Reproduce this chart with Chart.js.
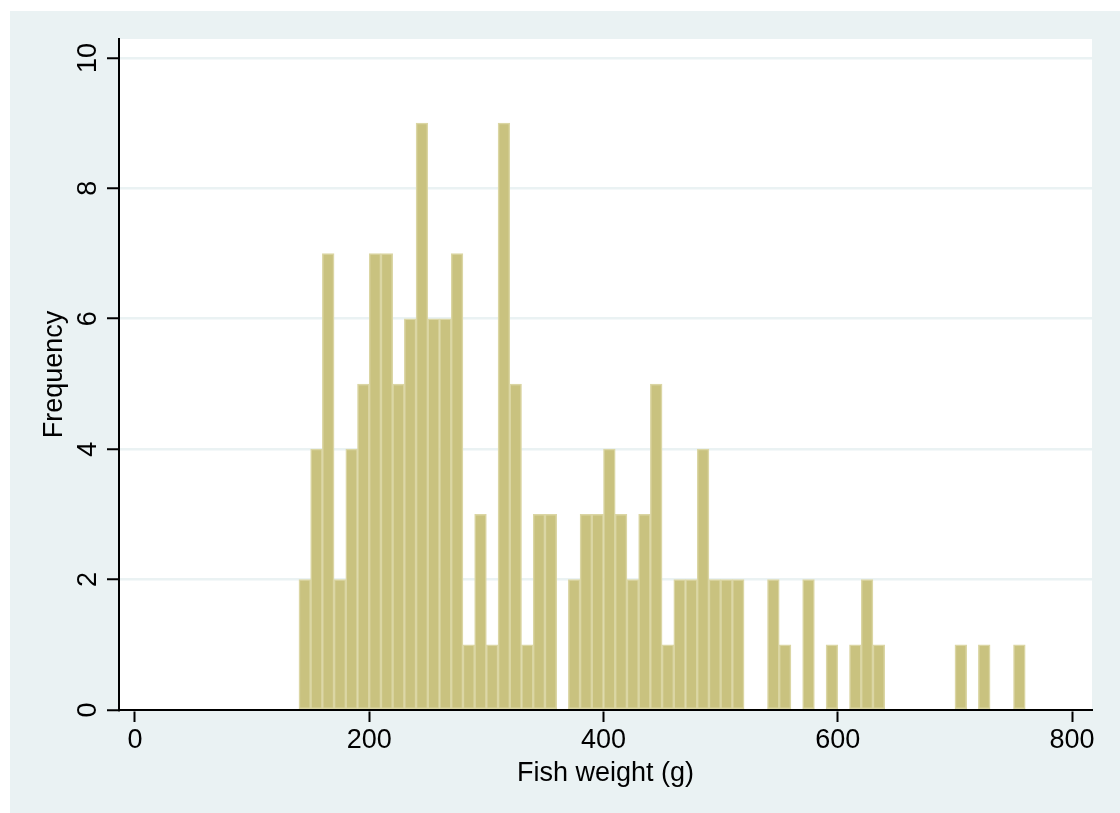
<!DOCTYPE html>
<html>
<head>
<meta charset="utf-8">
<title>Fish weight histogram</title>
<script src="https://cdn.jsdelivr.net/npm/chart.js@4.4.1/dist/chart.umd.min.js"></script>
<style>
  html, body { margin: 0; padding: 0; background: #ffffff; }
  #histChart { display: block; }
</style>
</head>
<body>
<canvas id="histChart" width="1120" height="813"></canvas>
<script>
// lower edge of each 10 g bin
const binStarts = [140, 150, 160, 170, 180, 190, 200, 210, 220, 230,
                   240, 250, 260, 270, 280, 290, 300, 310, 320, 330,
                   340, 350, 360, 370, 380, 390, 400, 410, 420, 430,
                   440, 450, 460, 470, 480, 490, 500, 510, 520, 530,
                   540, 550, 560, 570, 580, 590, 600, 610, 620, 630,
                   640, 650, 660, 670, 680, 690, 700, 710, 720, 730,
                   740, 750];
const frequencies = [2, 4, 7, 2, 4, 5, 7, 7, 5, 6,
                     9, 6, 6, 7, 1, 3, 1, 9, 5, 1,
                     3, 3, 0, 2, 3, 3, 4, 3, 2, 3,
                     5, 1, 2, 2, 4, 2, 2, 2, 0, 0,
                     2, 1, 0, 2, 0, 1, 0, 1, 2, 1,
                     0, 0, 0, 0, 0, 0, 1, 0, 1, 0,
                     0, 1];
const binWidth = 10;
const xTicks = [0, 200, 400, 600, 800];
const yTicks = [0, 2, 4, 6, 8, 10];

const fontFamily = "'Liberation Sans', Arial, Helvetica, sans-serif";
const outerColor = '#eaf2f3';

// build {x, y} points at bin centres, skip empty bins
const points = binStarts.map((start, i) => ({
    x: start + binWidth / 2,
    y: frequencies[i] === 0 ? null : frequencies[i]
}));

// stata style background: light frame, white plot region
const backgroundPlugin = {
    id: 'stataBackground',
    beforeDraw(chart) {
        const ctx = chart.ctx;
        const area = chart.chartArea;
        ctx.save();
        ctx.fillStyle = '#ffffff';
        ctx.fillRect(0, 0, chart.width, chart.height);
        ctx.fillStyle = outerColor;
        ctx.fillRect(10, 11, chart.width - 10, chart.height - 11);
        ctx.fillStyle = '#ffffff';
        ctx.fillRect(area.left, area.top, area.right - area.left, area.bottom - area.top);
        ctx.restore();
    }
};

// y tick labels are rotated like the original
const yLabelPlugin = {
    id: 'rotatedYLabels',
    afterDraw(chart) {
        const ctx = chart.ctx;
        const yScale = chart.scales.y;
        ctx.save();
        ctx.fillStyle = '#000000';
        ctx.font = '27px ' + fontFamily;
        ctx.textAlign = 'center';
        ctx.textBaseline = 'alphabetic';
        yTicks.forEach((v) => {
            const py = yScale.getPixelForValue(v);
            ctx.save();
            ctx.translate(96, py);
            ctx.rotate(-Math.PI / 2);
            ctx.fillText(String(v), 0, 0);
            ctx.restore();
        });
        ctx.restore();
    }
};

const histChart = new Chart(document.getElementById('histChart').getContext('2d'), {
    type: 'bar',
    data: {
        datasets: [
            {
                label: 'Frequency',
                data: points,
                backgroundColor: '#c9c27f',
                borderColor: '#dbd6a4',
                borderWidth: 1.5,
                borderSkipped: false,
                barPercentage: 1.0,
                categoryPercentage: 1.0,
            },
        ],
    },
    options: {
        responsive: false,
        devicePixelRatio: 1,
        animation: false,
        layout: {
            padding: { left: 0, right: 28, top: 39, bottom: 0 }
        },
        plugins: {
            legend: { display: false },
            tooltip: { enabled: false },
        },
        scales: {
            x: {
                type: 'linear',
                min: -13.6,
                max: 817,
                offset: false,
                afterBuildTicks(scale) {
                    scale.ticks = xTicks.map(v => ({ value: v }));
                },
                afterFit(scale) {
                    scale.height = 103;
                },
                grid: {
                    offset: false,
                    drawOnChartArea: false,
                    drawTicks: true,
                    tickLength: 12,
                    tickColor: '#000000',
                    tickWidth: 2,
                },
                border: { display: true, color: '#000000', width: 2 },
                ticks: {
                    autoSkip: false,
                    maxRotation: 0,
                    padding: 2,
                    color: '#000000',
                    font: { family: fontFamily, size: 27 },
                },
                title: {
                    display: true,
                    text: 'Fish weight (g)',
                    color: '#000000',
                    font: { family: fontFamily, size: 27 },
                    padding: { top: 0, bottom: 23 },
                },
            },
            y: {
                min: 0,
                max: 10.29,
                afterBuildTicks(scale) {
                    scale.ticks = yTicks.map(v => ({ value: v }));
                },
                afterFit(scale) {
                    scale.width = 119;
                },
                grid: {
                    color: outerColor,
                    lineWidth: 2.5,
                    drawTicks: true,
                    tickLength: 12,
                    tickColor: '#000000',
                    tickWidth: 2,
                },
                border: { display: true, color: '#000000', width: 2 },
                ticks: { display: false },
                title: {
                    display: true,
                    text: 'Frequency',
                    color: '#000000',
                    font: { family: fontFamily, size: 27 },
                    padding: { top: 38, bottom: 0 },
                },
            },
        },
    },
    plugins: [backgroundPlugin, yLabelPlugin],
});
</script>
</body>
</html>
